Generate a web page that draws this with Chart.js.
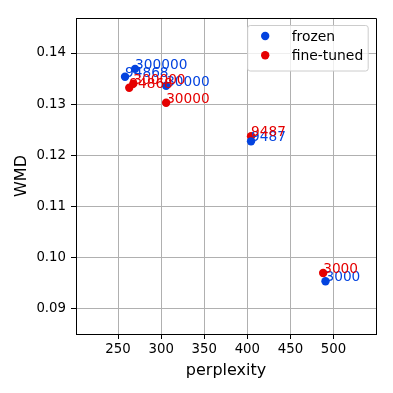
<!DOCTYPE html>
<html>
<head>
<meta charset="utf-8">
<script src="https://cdn.jsdelivr.net/npm/chart.js@4"></script>
<style>
  html, body { margin: 0; padding: 0; background: #fff; }
  canvas { display: block; }
</style>
</head>
<body>
<canvas id="chart" width="393" height="393"></canvas>
<script>
// training steps annotated next to each point
const checkpoints = ['300000', '94868', '30000', '9487', '3000'];

const frozenPerplexity = [269.8, 258.1, 305.8, 404.3, 490.7];
const frozenWmd = [0.1369, 0.13535, 0.1336, 0.1227, 0.0953];

const tunedPerplexity = [267.7, 263.0, 305.8, 404.3, 488.0];
const tunedWmd = [0.1340, 0.1332, 0.13025, 0.1237, 0.0969];

const xTicks = [250, 300, 350, 400, 450, 500];
const yTicks = [0.09, 0.10, 0.11, 0.12, 0.13, 0.14];
const xRange = [201.2, 549.3];
const yRange = [0.08496, 0.14686];

const BLUE = '#0343df';
const RED = '#e50000';
const FONT = 'DejaVu Sans';

function toPoints(xs, ys) {
    return xs.map((x, i) => ({ x, y: ys[i] }));
}

// top and right spines, chart.js only draws the left/bottom borders
const frame = {
    id: 'frame',
    afterDatasetsDraw(chart) {
        const { ctx, chartArea: a } = chart;
        ctx.save();
        ctx.strokeStyle = '#000';
        ctx.lineWidth = 1;
        ctx.beginPath();
        ctx.moveTo(a.left, a.top + 0.5);
        ctx.lineTo(a.right + 0.5, a.top + 0.5);
        ctx.lineTo(a.right + 0.5, a.bottom);
        ctx.stroke();
        ctx.restore();
    }
};

// text next to every point, baseline-left at the point like plt.annotate
const pointLabels = {
    id: 'pointLabels',
    afterDatasetsDraw(chart) {
        const ctx = chart.ctx;
        ctx.save();
        ctx.font = '13.7px "' + FONT + '"';
        ctx.textAlign = 'left';
        ctx.textBaseline = 'alphabetic';
        chart.data.datasets.forEach((ds, i) => {
            ctx.fillStyle = ds.backgroundColor;
            chart.getDatasetMeta(i).data.forEach((pt, j) => {
                ctx.fillText(checkpoints[j], pt.x, pt.y);
            });
        });
        ctx.restore();
    }
};

// matplotlib style legend box in the upper right
const boxLegend = {
    id: 'boxLegend',
    afterDraw(chart) {
        const { ctx, chartArea: a } = chart;
        const w = 120.5, h = 45.5;
        const x = a.right - 8.3 - w, y = a.top + 7;
        ctx.save();
        ctx.beginPath();
        ctx.roundRect(x + 0.5, y + 0.5, w, h, 2.5);
        ctx.fillStyle = 'rgba(255,255,255,0.8)';
        ctx.fill();
        ctx.strokeStyle = '#cccccc';
        ctx.lineWidth = 1;
        ctx.stroke();
        ctx.font = '13.9px "' + FONT + '"';
        ctx.textAlign = 'left';
        ctx.textBaseline = 'middle';
        chart.data.datasets.forEach((ds, i) => {
            const cy = y + 11 + i * 19.3;
            ctx.beginPath();
            ctx.arc(x + 18, cy, 4.2, 0, Math.PI * 2);
            ctx.fillStyle = ds.backgroundColor;
            ctx.fill();
            ctx.fillStyle = '#000';
            ctx.fillText(ds.label, x + 44.5, cy + 1);
        });
        ctx.restore();
    }
};

new Chart(document.getElementById('chart'), {
    type: 'scatter',
    data: {
        datasets: [
            {
                label: 'frozen',
                data: toPoints(frozenPerplexity, frozenWmd),
                backgroundColor: BLUE,
                borderColor: BLUE,
                borderWidth: 0,
                pointRadius: 4.2
            },
            {
                label: 'fine-tuned',
                data: toPoints(tunedPerplexity, tunedWmd),
                backgroundColor: RED,
                borderColor: RED,
                borderWidth: 0,
                pointRadius: 4.2
            }
        ]
    },
    options: {
        responsive: false,
        animation: false,
        events: [],
        layout: { padding: { left: 0, top: 18, right: 17, bottom: 0 }, autoPadding: false },
        plugins: {
            legend: { display: false },
            tooltip: { enabled: false }
        },
        scales: {
            x: {
                type: 'linear',
                min: xRange[0],
                max: xRange[1],
                afterBuildTicks: axis => { axis.ticks = xTicks.map(v => ({ value: v })); },
                afterFit: axis => { axis.height = 59; },
                ticks: {
                    font: { family: FONT, size: 13.3 },
                    color: '#000',
                    padding: 3,
                    maxRotation: 0,
                    autoSkip: false,
                    callback: v => String(v)
                },
                grid: { color: '#b0b0b0', lineWidth: 1, tickColor: '#000', tickLength: 5 },
                border: { color: '#000', width: 1 },
                title: {
                    display: true,
                    text: 'perplexity',
                    font: { family: FONT, size: 16 },
                    color: '#000',
                    padding: { top: 0, bottom: 12.5 }
                }
            },
            y: {
                type: 'linear',
                min: yRange[0],
                max: yRange[1],
                afterBuildTicks: axis => { axis.ticks = yTicks.map(v => ({ value: v })); },
                afterFit: axis => { axis.width = 76; },
                ticks: {
                    font: { family: FONT, size: 13.3 },
                    color: '#000',
                    padding: 5,
                    autoSkip: false,
                    callback: v => v.toFixed(2)
                },
                grid: { color: '#b0b0b0', lineWidth: 1, tickColor: '#000', tickLength: 5 },
                border: { color: '#000', width: 1 },
                title: {
                    display: true,
                    text: 'WMD',
                    font: { family: FONT, size: 16 },
                    color: '#000',
                    padding: { top: 12, bottom: 0 }
                }
            }
        }
    },
    plugins: [frame, pointLabels, boxLegend]
});
</script>
</body>
</html>
